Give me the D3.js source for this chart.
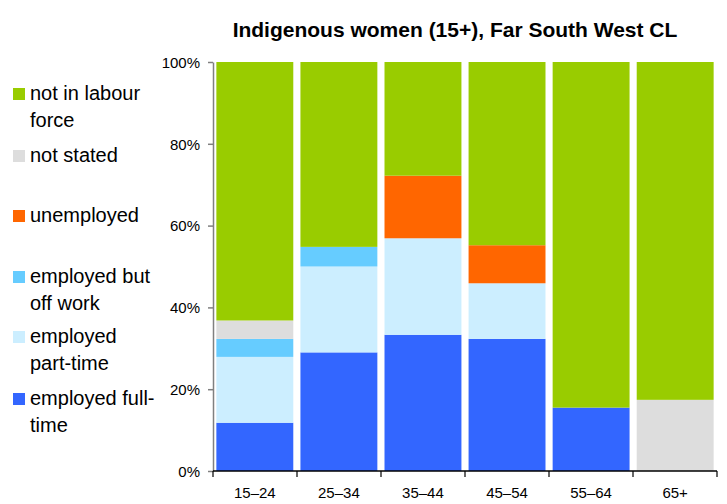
<!DOCTYPE html>
<html>
<head>
<meta charset="utf-8">
<script src="https://cdn.jsdelivr.net/npm/d3@7"></script>
<style>
  body { margin: 0; background: #fff; }
  text { font-family: "Liberation Sans", Arial, sans-serif; fill: #000; }
</style>
</head>
<body>
<div id="chart"></div>
<script>
// data (percent of age group)
var ageGroups = ["15–24", "25–34", "35–44", "45–54", "55–64", "65+"];
var fullTime   = [11.8, 29.0, 33.3, 32.3, 15.5, 0];
var partTime   = [16.1, 21.0, 23.6, 13.6, 0, 0];
var offWork    = [4.4, 4.8, 0, 0, 0, 0];
var unemployed = [0, 0, 15.3, 9.3, 0, 0];
var notStated  = [4.5, 0, 0, 0, 0, 17.4];
var notInLF    = [63.2, 45.2, 27.8, 44.8, 84.5, 82.6];
var yTicks = [0, 20, 40, 60, 80, 100];

var series = [
  {key: "fullTime", values: fullTime, color: "#3366ff", label: ["employed full-", "time"], ly: 405},
  {key: "partTime", values: partTime, color: "#cceeff", label: ["employed", "part-time"], ly: 343},
  {key: "offWork", values: offWork, color: "#66ccff", label: ["employed but", "off work"], ly: 283},
  {key: "unemployed", values: unemployed, color: "#ff6600", label: ["unemployed"], ly: 222},
  {key: "notStated", values: notStated, color: "#dddddd", label: ["not stated"], ly: 162},
  {key: "notInLF", values: notInLF, color: "#99cc00", label: ["not in labour", "force"], ly: 100}
];

//setup
var W = 727, H = 504;
var margin = {top: 62, right: 10, bottom: 33, left: 213},
    width = 717 - margin.left,
    height = 471 - margin.top;

var svg = d3.select("#chart").append("svg")
    .attr("width", W)
    .attr("height", H);

var g = svg.append("g")
    .attr("transform", "translate(" + margin.left + "," + margin.top + ")");

var x = d3.scaleBand().domain(ageGroups).range([0, width]).paddingInner(0.085).paddingOuter(0.04);
var y = d3.scaleLinear().domain([0, 100]).range([height, 0]);

var rows = ageGroups.map(function(a, i) {
  var r = {age: a};
  series.forEach(function(s) { r[s.key] = s.values[i]; });
  return r;
});
var stack = d3.stack().keys(series.map(function(s) { return s.key; }))(rows);

g.selectAll(".layer")
  .data(stack)
  .enter().append("g")
  .attr("class", "layer")
  .attr("fill", function(d, i) { return series[i].color; })
  .selectAll("rect")
  .data(function(d) { return d; })
  .enter().append("rect")
  .attr("x", function(d) { return x(d.data.age); })
  .attr("width", x.bandwidth())
  .attr("y", function(d) { return y(d[1]); })
  .attr("height", function(d) { return y(d[0]) - y(d[1]); });

// y axis
var yAxis = d3.axisLeft(y).tickValues(yTicks).tickFormat(function(d) { return d + "%"; })
    .tickSize(5).tickSizeOuter(0);
var ya = g.append("g").call(yAxis);
ya.select(".domain").attr("stroke", "#808080").attr("stroke-width", 1.5);
ya.selectAll(".tick line").attr("stroke", "#808080").attr("stroke-width", 1.5);
ya.selectAll(".tick text").attr("font-size", 15).attr("x", -13).attr("dy", "0.35em")
  .style("font-family", "Liberation Sans, Arial, sans-serif");

// x axis with ticks at category boundaries
var step = width / ageGroups.length;
var xa = g.append("g").attr("transform", "translate(0," + height + ")");
xa.append("line").attr("x1", 0).attr("x2", width).attr("stroke", "#000").attr("stroke-width", 1.5);
xa.selectAll(".bt")
  .data(d3.range(ageGroups.length + 1))
  .enter().append("line")
  .attr("x1", function(d) { return d * step; })
  .attr("x2", function(d) { return d * step; })
  .attr("y1", 0).attr("y2", 6)
  .attr("stroke", "#000").attr("stroke-width", 1.2);
xa.selectAll(".lbl")
  .data(ageGroups)
  .enter().append("text")
  .attr("x", function(d) { return x(d) + x.bandwidth() / 2; })
  .attr("y", 27)
  .attr("text-anchor", "middle")
  .attr("font-size", 15)
  .text(function(d) { return d; });

// title
svg.append("text")
  .attr("x", 455).attr("y", 37)
  .attr("text-anchor", "middle")
  .attr("font-size", 21)
  .attr("font-weight", "bold")
  .text("Indigenous women (15+), Far South West CL");

// legend
var leg = svg.append("g");
series.forEach(function(s) {
  leg.append("rect")
    .attr("x", 13).attr("y", s.ly - 12)
    .attr("width", 12).attr("height", 12)
    .attr("fill", s.color);
  s.label.forEach(function(t, j) {
    leg.append("text")
      .attr("x", 30).attr("y", s.ly + j * 27)
      .attr("font-size", 20)
      .text(t);
  });
});
</script>
</body>
</html>
